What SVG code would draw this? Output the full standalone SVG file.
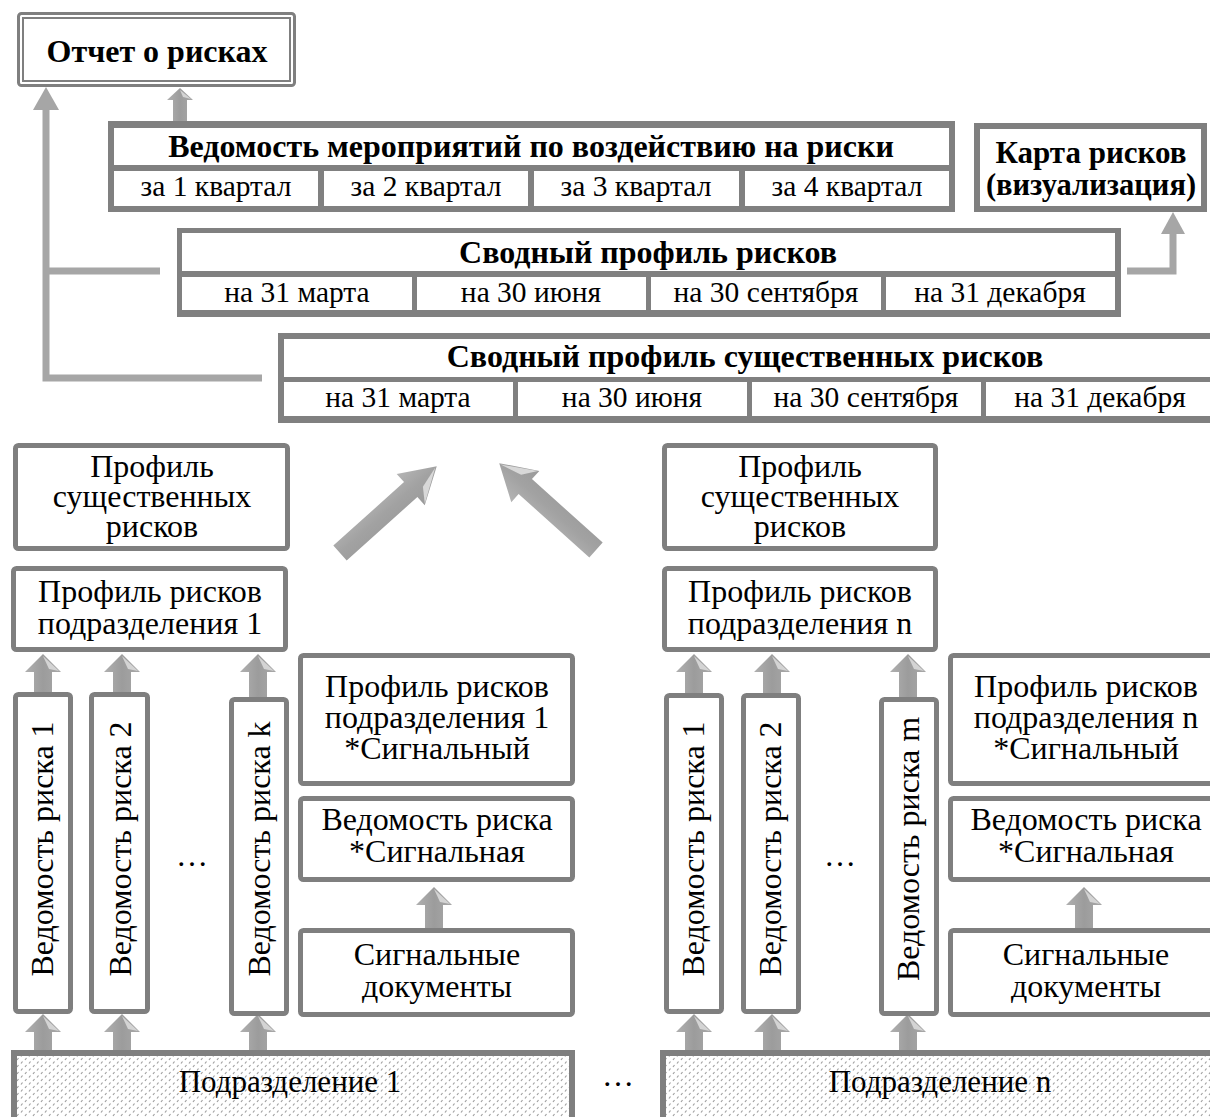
<svg xmlns="http://www.w3.org/2000/svg" width="1210" height="1117" viewBox="0 0 1210 1117">
<defs>
<style>
text{font-family:"Liberation Serif","Times New Roman",serif;fill:#000;text-anchor:middle}
.b{font-weight:bold;font-size:32px}
.t{font-size:29.5px}
.r{font-size:32px}
.d{font-size:31px}
.tbl{fill:#808080}
.cell{fill:#fff}
.box{fill:#fff;stroke:#7f7f7f;stroke-width:5}
.conn{fill:none;stroke:#a6a6a6;stroke-width:7}
</style>
<linearGradient id="ag" x1="0" y1="0" x2="1" y2="0">
<stop offset="0" stop-color="#b0b0b0"/><stop offset="0.5" stop-color="#9c9c9c"/><stop offset="1" stop-color="#a8a8a8"/>
</linearGradient>
<linearGradient id="bg" x1="0" y1="0" x2="0" y2="1">
<stop offset="0" stop-color="#b4b4b4"/><stop offset="0.5" stop-color="#a2a2a2"/><stop offset="1" stop-color="#9a9a9a"/>
</linearGradient>
<pattern id="dots" width="8" height="7" patternUnits="userSpaceOnUse">
<rect width="8" height="7" fill="#fff"/>
<path d="M1,3 L2.5,1 M5,6.5 L6.5,4.5" stroke="#a0a0a0" stroke-width="1.2"/>
</pattern>
<g id="sa">
<path d="M0,0 L18,18 L9,18 L9,44 L-9,44 L-9,18 L-18,18 Z" fill="url(#ag)"/>
<path d="M0,2 L16,17 L6,15 Z" fill="#d4d4d4"/>
</g>
<g id="ba">
<path d="M0,-10 L95,-10 L95,-21 L130,0 L95,21 L95,10 L0,10 Z" fill="url(#bg)"/>
<path d="M128,0 L96,20 L106,6 Z" fill="#d8d8d8"/>
</g>
</defs>

<g id="connectors">
<polyline class="conn" points="160,271 46,271"/>
<polyline class="conn" points="262,378 46,378 46,106"/>
<path d="M46,87 L59,110 L33,110 Z" fill="#a6a6a6"/>
<polyline class="conn" points="1127,271 1173,271 1173,230"/>
<path d="M1173,212 L1185,234 L1161,234 Z" fill="#a6a6a6"/>
<path d="M180,88 L193,100 L187,100 L187,124 L173,124 L173,100 L167,100 Z" fill="url(#ag)"/>
<path d="M180,90 L191,99 L183,97 Z" fill="#d4d4d4"/>
<use href="#ba" transform="translate(340,553) rotate(-41.9)"/>
<use href="#ba" transform="translate(596,550) rotate(-138.1)"/>
<use href="#sa" x="43" y="654"/>
<use href="#sa" x="122" y="654"/>
<use href="#sa" x="258" y="654"/>
<use href="#sa" x="43" y="1014"/>
<use href="#sa" x="122" y="1014"/>
<use href="#sa" x="258" y="1014"/>
<use href="#sa" x="434" y="887"/>
<use href="#sa" x="694" y="654"/>
<use href="#sa" x="772" y="654"/>
<use href="#sa" x="908" y="654"/>
<use href="#sa" x="694" y="1014"/>
<use href="#sa" x="772" y="1014"/>
<use href="#sa" x="908" y="1014"/>
<use href="#sa" x="1084" y="887"/>
</g>

<g id="report">
<rect x="18.5" y="13.5" width="276" height="72" rx="3" fill="#fff" stroke="#7f7f7f" stroke-width="3"/>
<rect x="23" y="18" width="267" height="63" fill="none" stroke="#7f7f7f" stroke-width="2"/>
<text class="b" x="157" y="62">Отчет о рисках</text>
</g>

<g id="measures">
<rect class="tbl" x="108" y="121" width="847" height="91"/>
<rect class="cell" x="114" y="128" width="835" height="37"/>
<rect class="cell" x="114" y="171" width="204" height="35"/>
<rect class="cell" x="324" y="171" width="204" height="35"/>
<rect class="cell" x="534" y="171" width="205" height="35"/>
<rect class="cell" x="745" y="171" width="204" height="35"/>
<text class="b" x="531" y="157">Ведомость мероприятий по воздействию на риски</text>
<text class="t" x="216" y="196">за 1 квартал</text>
<text class="t" x="426" y="196">за 2 квартал</text>
<text class="t" x="636" y="196">за 3 квартал</text>
<text class="t" x="847" y="196">за 4 квартал</text>
</g>

<g id="riskmap">
<rect x="977" y="126" width="227" height="83" fill="#fff" stroke="#7f7f7f" stroke-width="6"/>
<text class="b" x="1091" y="163" font-size="31" style="font-size:31px">Карта рисков</text>
<text class="b" x="1091" y="195" style="font-size:30.5px">(визуализация)</text>
</g>

<g id="summary">
<rect class="tbl" x="177" y="228" width="944" height="89"/>
<rect class="cell" x="182" y="233" width="933" height="38"/>
<rect class="cell" x="182" y="277" width="230" height="33"/>
<rect class="cell" x="417" y="277" width="229" height="33"/>
<rect class="cell" x="651" y="277" width="230" height="33"/>
<rect class="cell" x="886" y="277" width="229" height="33"/>
<text class="b" x="648" y="263">Сводный профиль рисков</text>
<text class="t" x="297" y="302">на 31 марта</text>
<text class="t" x="531" y="302">на 30 июня</text>
<text class="t" x="766" y="302">на 30 сентября</text>
<text class="t" x="1000" y="302">на 31 декабря</text>
</g>

<g id="summary-significant">
<rect class="tbl" x="278" y="333" width="944" height="90"/>
<rect class="cell" x="284" y="339" width="932" height="38"/>
<rect class="cell" x="284" y="382" width="229" height="34"/>
<rect class="cell" x="518" y="382" width="229" height="34"/>
<rect class="cell" x="752" y="382" width="229" height="34"/>
<rect class="cell" x="986" y="382" width="230" height="34"/>
<text class="b" x="745" y="367">Сводный профиль существенных рисков</text>
<text class="t" x="398" y="407">на 31 марта</text>
<text class="t" x="632" y="407">на 30 июня</text>
<text class="t" x="866" y="407">на 30 сентября</text>
<text class="t" x="1100" y="407">на 31 декабря</text>
</g>

<g id="sig-profile-1">
<rect class="box" x="15.5" y="445.5" width="272" height="103" rx="3"/>
<text class="r" x="152" y="477">Профиль</text>
<text class="r" x="152" y="507">существенных</text>
<text class="r" x="152" y="537">рисков</text>
</g>
<g id="profile-1">
<rect class="box" x="13.5" y="568.5" width="272" height="81" rx="3"/>
<text class="r" x="150" y="602">Профиль рисков</text>
<text class="r" x="150" y="634">подразделения 1</text>
</g>
<g id="ved1-1">
<rect class="box" x="15.5" y="694.5" width="55" height="317" rx="3"/>
<text class="r" transform="translate(53,849) rotate(-90)">Ведомость риска 1</text>
</g>
<g id="ved1-2">
<rect class="box" x="91.5" y="694.5" width="56" height="317" rx="3"/>
<text class="r" transform="translate(131,849) rotate(-90)">Ведомость риска 2</text>
</g>
<g id="ved1-k">
<rect class="box" x="231.5" y="699.5" width="55" height="314" rx="3"/>
<text class="r" transform="translate(270,849) rotate(-90)">Ведомость риска k</text>
</g>
<text class="r" x="192" y="866">…</text>
<g id="sig-prof-1">
<rect class="box" x="300.5" y="655.5" width="272" height="128" rx="3"/>
<text class="r" x="437" y="697">Профиль рисков</text>
<text class="r" x="437" y="728">подразделения 1</text>
<text class="r" x="437" y="759">*Сигнальный</text>
</g>
<g id="sig-ved-1">
<rect class="box" x="300.5" y="798.5" width="272" height="81" rx="3"/>
<text class="r" x="437" y="830">Ведомость риска</text>
<text class="r" x="437" y="862">*Сигнальная</text>
</g>
<g id="sig-docs-1">
<rect class="box" x="300.5" y="930.5" width="272" height="84" rx="3"/>
<text class="r" x="437" y="965">Сигнальные</text>
<text class="r" x="437" y="997">документы</text>
</g>
<g id="dept-1">
<rect x="14" y="1053" width="558" height="80" fill="url(#dots)" stroke="#7f7f7f" stroke-width="6"/>
<text class="d" x="290" y="1092">Подразделение 1</text>
</g>
<text class="r" x="618" y="1086">…</text>

<g id="sig-profile-n">
<rect class="box" x="664.5" y="445.5" width="271" height="103" rx="3"/>
<text class="r" x="800" y="477">Профиль</text>
<text class="r" x="800" y="507">существенных</text>
<text class="r" x="800" y="537">рисков</text>
</g>
<g id="profile-n">
<rect class="box" x="664.5" y="568.5" width="271" height="81" rx="3"/>
<text class="r" x="800" y="602">Профиль рисков</text>
<text class="r" x="800" y="634">подразделения n</text>
</g>
<g id="vedn-1">
<rect class="box" x="666.5" y="695.5" width="55" height="316" rx="3"/>
<text class="r" transform="translate(704,849) rotate(-90)">Ведомость риска 1</text>
</g>
<g id="vedn-2">
<rect class="box" x="743.5" y="695.5" width="55" height="316" rx="3"/>
<text class="r" transform="translate(781,849) rotate(-90)">Ведомость риска 2</text>
</g>
<g id="vedn-m">
<rect class="box" x="881.5" y="699.5" width="55" height="314" rx="3"/>
<text class="r" transform="translate(919,849) rotate(-90)">Ведомость риска m</text>
</g>
<text class="r" x="840" y="866">…</text>
<g id="sig-prof-n">
<rect class="box" x="950.5" y="655.5" width="272" height="128" rx="3"/>
<text class="r" x="1086" y="697">Профиль рисков</text>
<text class="r" x="1086" y="728">подразделения n</text>
<text class="r" x="1086" y="759">*Сигнальный</text>
</g>
<g id="sig-ved-n">
<rect class="box" x="950.5" y="798.5" width="272" height="81" rx="3"/>
<text class="r" x="1086" y="830">Ведомость риска</text>
<text class="r" x="1086" y="862">*Сигнальная</text>
</g>
<g id="sig-docs-n">
<rect class="box" x="950.5" y="930.5" width="272" height="84" rx="3"/>
<text class="r" x="1086" y="965">Сигнальные</text>
<text class="r" x="1086" y="997">документы</text>
</g>
<g id="dept-n">
<rect x="663" y="1053" width="570" height="80" fill="url(#dots)" stroke="#7f7f7f" stroke-width="6"/>
<text class="d" x="940" y="1092">Подразделение n</text>
</g>
</svg>
